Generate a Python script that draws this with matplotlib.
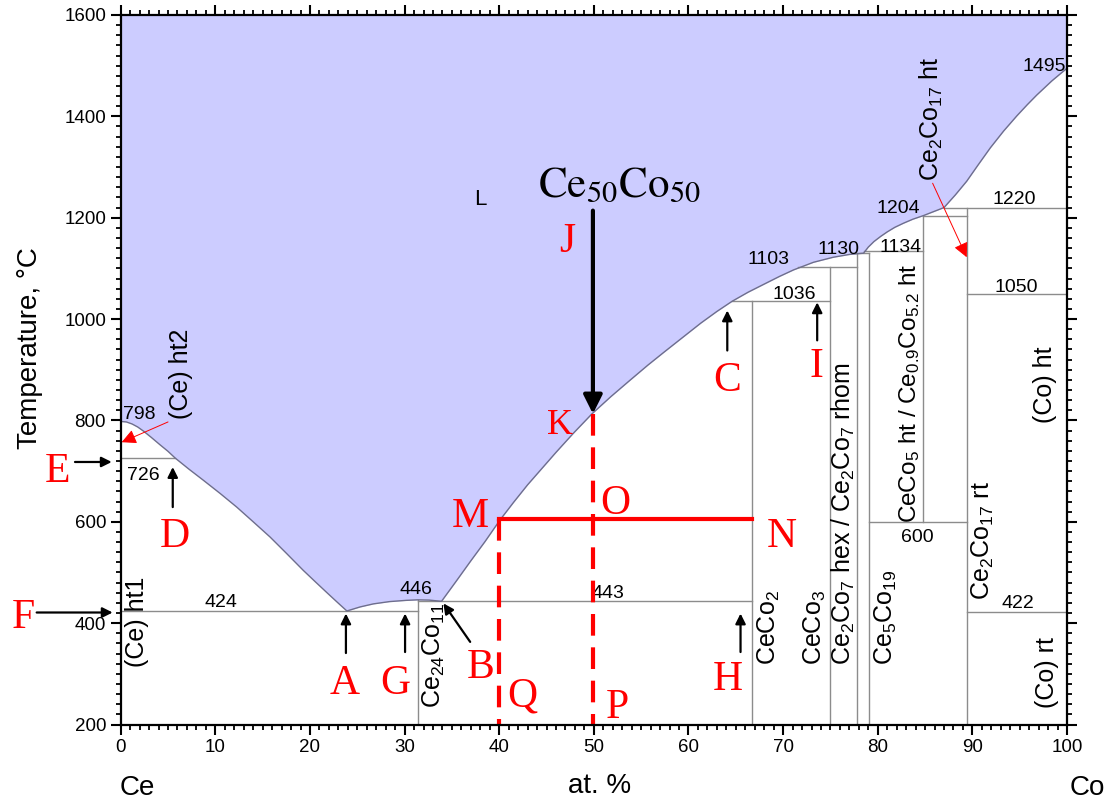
import numpy as np
import matplotlib.pyplot as plt

plt.rcParams['font.family'] = ['Liberation Sans', 'DejaVu Sans']
plt.rcParams['mathtext.fontset'] = 'custom'
plt.rcParams['mathtext.rm'] = 'Liberation Sans'
plt.rcParams['mathtext.it'] = 'Liberation Sans:italic'
plt.rcParams['mathtext.bf'] = 'Liberation Sans:bold'

# liquidus (at.% Co, deg C)
liq_x = [0, 0.6, 1.2, 1.8, 2.4, 3.2, 4.15, 5.0, 5.74, 7.2, 8.73, 10.5, 12.26,
         14.0, 15.78, 17.5, 19.3, 20.6, 21.8, 22.9, 23.9,
         25.3, 26.7, 28.4, 30.2, 31.4, 32.6, 33.9,
         35.5, 37.0, 38.5, 40.1, 41.5, 43.0, 44.5, 46.0, 47.8, 49.8, 51.8,
         53.8, 55.7, 57.5, 59.4, 61.3, 63.0, 64.6, 66.3, 68.0, 69.6, 71.1,
         73.2, 75.3, 77.0, 78.5,
         79.0, 79.6, 80.3, 81.0, 81.8, 82.7, 83.7, 84.8, 85.9, 87.0,
         88.2, 89.4, 90.6, 91.9, 93.3, 94.7, 95.8, 96.8, 98.4, 100]
liq_t = [798, 797, 793, 787, 779, 767, 752, 739, 726, 704, 682, 656, 629,
         600, 570, 538, 504, 481, 460, 441, 424,
         432, 438, 442.5, 445, 446, 445.5, 443,
         484, 523, 561, 604, 638, 673, 705, 737, 774, 813, 847,
         879, 909, 936, 964, 992, 1015, 1035, 1053, 1069, 1084, 1097,
         1112, 1122, 1127.5, 1130,
         1142, 1153, 1163, 1172, 1181, 1189, 1197, 1204, 1212, 1220,
         1245, 1272, 1304, 1338, 1371, 1401, 1423, 1442, 1470, 1495]

# invariant lines: temperature, from, to
h_t = [726, 424, 443, 1036, 1103, 1130, 1134, 1204, 1220, 1050, 600, 422]
h_x0 = [0, 0, 31.4, 64.6, 71.6, 77.8, 78.5, 84.8, 87.0, 89.4, 79.1, 89.4]
h_x1 = [5.74, 31.4, 66.7, 75.0, 77.8, 79.1, 84.8, 89.4, 100, 100, 89.4, 100]

# compound lines: composition, from, to
v_x = [31.4, 66.7, 75.0, 77.8, 79.1, 84.8, 89.4]
v_t0 = [200, 200, 200, 200, 200, 600, 200]
v_t1 = [446, 1036, 1103, 1130, 1130, 1204, 1220]

# temperature labels
num_text = ['798', '726', '424', '446', '443', '1036', '1103', '1130', '1134',
            '1204', '1220', '1495', '1050', '600', '422']
num_x = [1.94, 2.36, 10.58, 31.25, 51.46, 71.17, 68.42, 75.83, 82.38,
         82.17, 94.43, 97.6, 94.64, 84.23, 94.8]
num_t = [803, 682, 432, 458, 449, 1040, 1109, 1128, 1132,
         1210, 1227, 1490, 1053, 560, 429]

# phase field labels, written upward from (x, t)
phase_text = ['(Ce) ht2', '(Ce) ht1', r'$\mathrm{Ce}_{24}\mathrm{Co}_{11}$',
              r'$\mathrm{CeCo}_{2}$', r'$\mathrm{CeCo}_{3}$',
              r'$\mathrm{Ce}_{2}\mathrm{Co}_{7}\ \mathrm{hex}\ /\ \mathrm{Ce}_{2}\mathrm{Co}_{7}\ \mathrm{rhom}$',
              r'$\mathrm{Ce}_{5}\mathrm{Co}_{19}$',
              r'$\mathrm{CeCo}_{5}\ \mathrm{ht}\ /\ \mathrm{Ce}_{0.9}\mathrm{Co}_{5.2}\ \mathrm{ht}$',
              r'$\mathrm{Ce}_{2}\mathrm{Co}_{17}\ \mathrm{rt}$', '(Co) ht', '(Co) rt',
              r'$\mathrm{Ce}_{2}\mathrm{Co}_{17}\ \mathrm{ht}$']
phase_x = [6.36, 1.69, 33.14, 68.46, 73.36, 76.38, 80.88, 83.35, 91.1, 97.7, 97.9, 85.63]
phase_t = [803, 314, 232, 317, 317, 317, 317, 598, 445, 794, 232, 1273]
phase_size = [18, 18, 18, 18, 18, 18, 18, 17.5, 18, 18, 18, 18]

# lettered points
red_lbl = ['A', 'B', 'C', 'D', 'E', 'F', 'G', 'H', 'I', 'J', 'K', 'M', 'N', 'O', 'P', 'Q']
red_x = [23.71, 38.0, 64.1, 5.74, -6.68, -10.3, 29.0, 64.2, 73.5, 47.2, 46.4,
         36.9, 69.9, 52.25, 52.5, 42.4]
red_t = [261, 291, 859, 550, 678, 390, 261, 268, 885, 1132, 774,
         590, 550, 615, 212, 235]

# black pointer arrows: start x, start t, tip x, tip t
arr_x0 = [-4.83, -8.88, 5.5, 23.8, 30.05, 36.93, 64.1, 73.6, 65.5]
arr_t0 = [718, 421, 629, 341, 343, 363, 938, 958, 343]
arr_x1 = [-0.95, -0.85, 5.5, 23.8, 30.05, 34.1, 64.1, 73.6, 65.5]
arr_t1 = [718, 421, 708, 419, 419, 439, 1017, 1033, 419]

# red label arrows
rarr_x0 = [5.0, 85.8]
rarr_t0 = [797, 1268]
rarr_x1 = [0.1, 89.4]
rarr_t1 = [757, 1122]

# alloy path
alloy_x = 49.9
alloy_t = 813
start_t = 1214
m_x = 40.0
tie_t = 606
n_x = 66.7

fig = plt.figure(figsize=(11.09, 8.02), dpi=100)
ax = fig.add_axes([0.10884, 0.09663, 0.8533, 0.88467])

ax.fill_between(liq_x, liq_t, 1600, color='#ccccff', lw=0, zorder=1)
ax.plot(liq_x, liq_t, color='#6e6e8c', lw=1.0, zorder=3)

for t, a, b in zip(h_t, h_x0, h_x1):
    ax.plot([a, b], [t, t], color='#8c8c8c', lw=1.0, zorder=2)
for x, a, b in zip(v_x, v_t0, v_t1):
    ax.plot([x, x], [a, b], color='#8c8c8c', lw=1.0, zorder=2)

for s, x, t in zip(num_text, num_x, num_t):
    ax.text(x, t, s, ha='center', va='baseline', fontsize=14, zorder=5)

ax.text(38.0, 1226, 'L', ha='center', va='baseline', fontsize=16, zorder=5)

for s, x, t, fs in zip(phase_text, phase_x, phase_t, phase_size):
    ax.text(x, t, s, rotation=90, ha='center', va='bottom', fontsize=fs, zorder=5)

# red construction lines
ax.plot([m_x, m_x], [tie_t, 200], color='red', lw=3, dashes=(5.2, 2.8), zorder=6,
        clip_on=False)
ax.plot([alloy_x, alloy_x], [alloy_t, 200], color='red', lw=3, dashes=(5.2, 2.8),
        zorder=6, clip_on=False)
ax.plot([m_x, n_x], [tie_t, tie_t], color='red', lw=3, zorder=6)

ax.annotate('', xy=(alloy_x, alloy_t), xytext=(alloy_x, start_t),
            arrowprops=dict(arrowstyle='-|>', color='black', lw=3,
                            mutation_scale=28, shrinkA=0, shrinkB=0), zorder=7)
ax.text(52.7, 1240, r'$\mathrm{Ce}_{50}\mathrm{Co}_{50}$', math_fontfamily='stix',
        ha='center', va='baseline', fontsize=31, zorder=7)

for x0, t0, x1, t1 in zip(arr_x0, arr_t0, arr_x1, arr_t1):
    ax.annotate('', xy=(x1, t1), xytext=(x0, t0), annotation_clip=False,
                arrowprops=dict(arrowstyle='-|>', color='black', lw=1.6,
                                mutation_scale=15, shrinkA=0, shrinkB=0), zorder=7)

for x0, t0, x1, t1 in zip(rarr_x0, rarr_t0, rarr_x1, rarr_t1):
    ax.annotate('', xy=(x1, t1), xytext=(x0, t0), annotation_clip=False,
                arrowprops=dict(arrowstyle='-|>', color='red', lw=0.7,
                                mutation_scale=22, shrinkA=0, shrinkB=0), zorder=7)

for s, x, t in zip(red_lbl, red_x, red_t):
    ax.text(x, t, s, color='red', family='Liberation Serif', fontsize=26 if s == 'K' else 30,
            ha='center', va='baseline', zorder=8, clip_on=False)

ax.set_xlim(0, 100)
ax.set_ylim(200, 1600)
ax.set_xticks(np.arange(0, 101, 10))
ax.set_yticks(np.arange(200, 1601, 200))
ax.set_xticks(np.arange(0, 101, 1), minor=True)
ax.set_yticks(np.arange(200, 1601, 20), minor=True)
ax.tick_params(which='both', direction='out', top=True, right=True, labelsize=13.5,
               pad=3)
ax.tick_params(which='major', length=7.5, width=1.5)
ax.tick_params(which='minor', length=3.5, width=1.3)
for sp in ax.spines.values():
    sp.set_linewidth(1.6)
    sp.set_zorder(9)

ax.set_ylabel('Temperature, °C', fontsize=20, va='center')
ax.yaxis.set_label_coords(-0.096, 0.53)
ax.text(0.5065, -0.0965, 'at. %', transform=ax.transAxes, ha='center',
        va='baseline', fontsize=20)
ax.text(0.018, -0.099, 'Ce', transform=ax.transAxes, ha='center',
        va='baseline', fontsize=20)
ax.text(1.021, -0.099, 'Co', transform=ax.transAxes, ha='center',
        va='baseline', fontsize=20)

fig.savefig('out.png', dpi=100)
